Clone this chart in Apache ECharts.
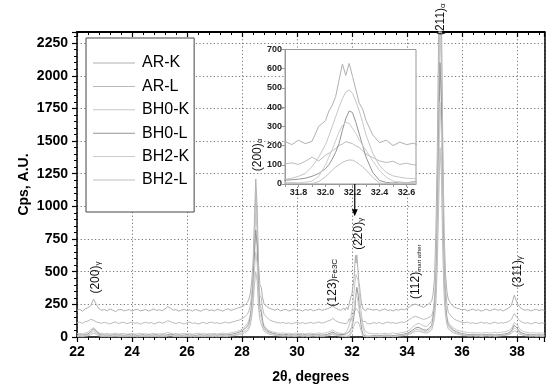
<!DOCTYPE html>
<html><head><meta charset="utf-8">
<script src="https://cdn.jsdelivr.net/npm/echarts@6/dist/echarts.min.js"></script>
<style>html,body{margin:0;padding:0;background:#fff}#c{width:550px;height:389px}</style>
</head><body><div id="c"></div>
<script>
// ---- DATA ----
const seriesNames = ['AR-K','AR-L','BH0-K','BH0-L','BH2-K','BH2-L'];
const xTicksMain = [22,24,26,28,30,32,34,36,38];
const yTicksMain = [0,250,500,750,1000,1250,1500,1750,2000,2250];

// sampling positions (2theta, degrees)
const twoTheta = [
 22.0,22.1,22.2,22.3,22.4,22.5,22.6,22.7,22.8,22.9,
 23.0,23.1,23.2,23.3,23.4,23.5,23.6,23.7,23.8,23.9,
 24.0,24.1,24.2,24.3,24.4,24.5,24.6,24.7,24.8,24.9,
 25.0,25.1,25.2,25.3,25.4,25.5,25.6,25.7,25.8,25.9,
 26.0,26.1,26.2,26.3,26.4,26.5,26.6,26.7,26.8,26.9,
 27.0,27.1,27.2,27.3,27.4,27.5,27.6,27.7,27.8,27.9,
 28.0,28.1,28.2,
 28.25,28.3,28.35,28.4,28.45,28.5,28.55,28.6,28.65,28.7,28.75,28.8,
 28.9,
 29.0,29.1,29.2,29.3,29.4,29.5,29.6,29.7,29.8,29.9,
 30.0,30.1,30.2,30.3,30.4,30.5,30.6,30.7,30.8,30.9,
 31.0,31.1,31.2,31.3,31.4,31.5,31.6,31.7,
 31.75,31.8,31.85,31.9,31.95,32.0,32.025,32.05,32.075,32.1,32.125,32.15,32.175,32.2,32.225,32.25,32.275,32.3,32.35,32.4,32.45,32.5,32.55,32.6,32.65,32.7,
 32.8,32.9,
 33.0,33.1,33.2,33.3,33.4,33.5,33.6,33.7,33.8,33.9,
 34.0,34.1,34.2,34.3,34.4,34.5,34.6,34.7,34.8,34.9,
 34.95,35.0,35.05,35.1,35.15,35.2,35.25,35.3,35.35,35.4,35.45,35.5,
 35.6,35.7,35.8,35.9,
 36.0,36.1,36.2,36.3,36.4,36.5,36.6,36.7,36.8,36.9,
 37.0,37.1,37.2,37.3,37.4,37.5,37.6,37.7,37.8,37.9,
 38.0,38.1,38.2,38.3,38.4,38.5,38.6,38.7,38.8,38.9,
 39.0
];

const arK = [
 205,212,198,215,225,240,290,250,215,205,
 210,200,215,205,195,208,212,200,205,210,
 198,207,213,200,204,211,199,206,214,203,
 209,201,215,232,220,205,210,198,206,212,
 202,208,199,211,205,197,209,214,203,207,
 200,212,206,198,210,215,204,211,218,225,
 232,245,265,
 290,330,420,560,880,1210,1000,560,400,380,300,255,
 232,220,212,205,215,200,208,212,199,206,
 214,203,209,198,210,205,212,200,207,214,
 204,210,216,225,238,222,210,205,222,
 205,228,210,222,300,330,380,410,455,540,625,565,628,560,490,420,390,330,255,215,228,200,218,205,212,200,
 206,212,200,209,215,203,208,199,211,205,
 214,208,218,232,245,252,244,236,228,240,
 255,275,
 330,450,800,1400,2300,2750,2500,1500,800,480,350,290,
 255,232,222,215,208,212,200,207,214,203,
 209,198,206,213,201,208,215,204,210,199,
 212,222,245,320,262,228,212,205,210,200,
 207,213,202,209,204
];
const arL = [
 108,115,104,118,122,135,128,116,110,105,
 112,106,99,110,116,104,109,113,102,108,
 115,104,110,98,107,113,105,111,100,108,
 114,106,112,125,118,108,103,111,106,100,
 109,115,104,108,99,106,112,103,109,114,
 105,110,101,108,115,106,112,118,124,130,
 140,155,175,
 200,240,320,470,780,1100,900,470,320,300,220,175,
 150,132,122,115,110,106,112,104,109,100,
 108,113,105,110,102,107,112,104,109,115,
 106,112,120,128,142,126,114,108,105,
 110,102,118,140,120,150,160,172,185,200,208,220,215,210,198,190,172,155,138,120,112,118,102,108,100,98,
 110,104,112,100,108,115,106,111,103,109,
 116,110,122,135,150,158,152,142,135,140,
 150,165,
 200,290,500,1100,2000,2550,2300,1300,650,380,250,190,
 160,140,128,120,112,108,115,104,110,102,
 107,113,105,110,100,108,114,104,110,106,
 112,120,135,180,150,125,112,105,110,100,
 107,112,103,108,104
];
const bh0K = [
 25,28,24,30,38,55,72,50,32,27,
 24,27,22,26,29,23,25,28,21,24,
 27,22,25,29,23,26,21,25,28,22,
 26,24,28,35,30,24,27,22,25,28,
 23,26,21,25,29,24,27,22,26,24,
 28,23,26,30,25,28,32,36,42,50,
 60,78,105,
 125,170,260,420,700,950,820,420,250,220,130,90,
 62,48,40,35,31,28,32,26,29,24,
 27,30,25,28,23,26,29,25,28,31,
 27,30,35,42,55,40,32,28,24,
 30,40,55,90,140,205,250,300,350,400,445,478,490,472,430,380,320,255,160,95,60,42,35,30,28,26,
 24,27,23,26,29,24,27,31,26,29,
 33,36,42,55,75,92,105,98,85,80,
 95,125,
 180,260,420,850,1700,2350,2050,1100,520,280,160,110,
 85,68,55,47,42,38,35,32,34,30,
 33,29,31,35,30,33,36,32,35,38,
 42,50,65,110,95,60,45,38,34,31,
 33,29,32,30,28
];
const bh0L = [
 15,17,14,18,24,40,62,42,22,16,
 14,16,13,15,17,14,16,13,15,17,
 14,16,12,15,17,13,16,14,15,17,
 13,16,14,18,22,16,14,16,13,15,
 17,14,16,12,15,17,13,16,14,15,
 17,14,16,18,15,17,20,24,30,38,
 48,62,85,
 105,150,230,380,620,820,700,360,210,190,110,75,
 50,38,30,24,20,18,16,19,15,17,
 14,16,18,15,17,14,16,18,15,17,
 14,16,20,28,38,26,20,18,20,
 22,25,30,40,55,80,100,130,165,210,280,340,380,372,320,260,200,140,60,18,8,5,10,6,12,8,
 10,13,9,12,15,11,14,10,13,16,
 18,22,28,38,52,68,75,66,55,52,
 65,90,
 150,220,380,750,1450,2100,1800,950,450,240,140,95,
 70,52,40,32,27,22,19,17,20,16,
 18,15,17,19,16,18,15,17,19,21,
 25,32,48,90,70,40,28,22,19,16,
 18,15,17,14,16
];
const bh2K = [
 8,10,7,11,15,28,45,30,14,9,
 8,10,6,9,11,7,9,6,8,10,
 7,9,5,8,10,6,9,7,8,10,
 6,9,7,11,14,9,7,9,6,8,
 10,7,9,5,8,10,6,9,7,8,
 10,7,9,11,8,10,13,16,20,26,
 34,45,62,
 85,120,190,310,500,650,560,290,170,150,90,60,
 40,30,24,18,15,12,10,13,9,11,
 8,10,12,9,11,8,10,12,9,11,
 8,10,14,20,28,19,14,11,9,
 8,6,10,15,40,100,140,180,225,270,305,322,315,290,262,230,200,175,120,70,35,15,8,5,8,6,
 5,8,4,7,10,6,9,5,8,11,
 13,17,22,30,42,55,60,52,44,42,
 52,72,
 120,180,320,650,1250,1800,1550,800,380,200,115,78,
 58,42,32,25,20,16,13,11,14,10,
 12,9,11,13,10,12,9,11,13,15,
 18,24,38,70,55,30,20,15,12,10,
 12,9,11,8,10
];
const bh2L = [
 3,5,2,6,9,18,30,20,8,4,
 3,5,2,4,6,2,4,1,3,5,
 2,4,1,3,5,2,4,2,3,5,
 1,4,2,6,9,5,3,4,2,3,
 5,2,4,1,3,5,2,4,2,3,
 5,2,4,6,3,5,8,10,14,18,
 24,33,46,
 62,90,145,240,390,500,430,225,130,115,68,45,
 30,22,17,13,10,8,6,8,5,7,
 4,6,8,5,7,4,6,8,5,7,
 4,6,9,14,20,13,9,6,4,
 3,2,4,2,12,38,55,72,88,100,112,120,125,124,115,102,90,72,35,5,2,4,1,3,2,3,
 2,4,1,3,6,2,5,2,4,7,
 9,12,16,22,32,42,46,40,33,31,
 38,55,
 95,145,260,540,1000,1450,1250,650,310,165,95,62,
 45,32,24,18,14,11,9,7,10,6,
 8,5,7,9,6,8,5,7,9,11,
 14,18,28,48,38,22,14,10,8,6,
 8,5,7,4,6
];
const seriesValues = [arK, arL, bh0K, bh0L, bh2K, bh2L];

// ---- CHART ----
const lineColors = ['#b0b0b0','#bababa','#c6c6c6','#959595','#cccccc','#c0c0c0'];
seriesValues.forEach((a,i)=>{ if(a.length!==twoTheta.length) throw new Error(seriesNames[i]+' length '+a.length+' vs '+twoTheta.length); });

const FONT = 'Arial, "Liberation Sans", sans-serif';
const chart = echarts.init(document.getElementById('c'), null, {renderer:'canvas'});

const mainSeries = seriesNames.map((n,i)=>({
  name:n, type:'line', xAxisIndex:0, yAxisIndex:0, symbol:'none', z:3,
  lineStyle:{color:lineColors[i], width:1}, itemStyle:{color:lineColors[i]},
  data: twoTheta.map((x,k)=>[x, seriesValues[i][k]])
}));
const insetSeries = seriesNames.map((n,i)=>({
  name:n, type:'line', xAxisIndex:2, yAxisIndex:2, symbol:'none', z:22, clip:true,
  lineStyle:{color:lineColors[i], width:1}, itemStyle:{color:lineColors[i]},
  data: twoTheta.map((x,k)=>[x, seriesValues[i][k]])
}));

const dotted = {show:true, lineStyle:{color:'#777', width:1, type:[1.2,2.4]}};
const plainNum = v => String(Math.round(v));
chart.setOption({
  animation:false,
  backgroundColor:'#fff',
  grid:[
    {left:77, right:5.5, top:32, bottom:51.5},
    {left:285, top:49.5, width:131, height:134.5, show:true, backgroundColor:'#fff', borderColor:'#999', borderWidth:1, z:20}
  ],
  legend:{
    data:seriesNames.map((n,i)=>({name:n, icon:'path://M0,0 L42,0 L42,1 L0,1 Z', itemStyle:{color:lineColors[i]}})),
    orient:'vertical', left:86, top:38, symbolKeepAspect:true,
    borderColor:'#444', borderWidth:1, padding:[17,5,24,7],
    itemWidth:42, itemHeight:14, itemGap:7.4, z:30,
    textStyle:{fontFamily:FONT, fontSize:16, lineHeight:16, color:'#000', padding:[0,0,0,2]},
    backgroundColor:'#fff'
  },
  xAxis:[
    {type:'value', gridIndex:0, min:22, max:39, interval:2, position:'bottom',
     name:'2θ, degrees', nameLocation:'middle', nameGap:33, nameMoveOverlap:false,
     nameTextStyle:{fontFamily:FONT, fontWeight:'bold', fontSize:14, color:'#000'},
     axisLine:{show:true, onZero:false, lineStyle:{color:'#000', width:1.5}},
     axisTick:{show:true, inside:false, length:5, lineStyle:{color:'#000', width:1.2}},
     minorTick:{show:true, splitNumber:5, length:3, lineStyle:{color:'#000', width:1}},
     axisLabel:{fontFamily:FONT, fontWeight:'bold', fontSize:14, color:'#000', margin:8, showMaxLabel:false, formatter:plainNum},
     splitLine:dotted},
    {type:'value', gridIndex:0, min:22, max:39, interval:2, position:'top',
     axisLine:{show:true, onZero:false, lineStyle:{color:'#000', width:2}},
     axisTick:{show:true, inside:true, length:5, lineStyle:{color:'#000', width:1.2}},
     minorTick:{show:true, splitNumber:5, length:3, lineStyle:{color:'#000', width:1}},
     axisLabel:{show:false}, splitLine:{show:false}},
    {type:'value', gridIndex:1, min:31.7, max:32.67, interval:0.1,
     axisLine:{show:true, onZero:false, lineStyle:{color:'#999', width:1}},
     axisTick:{show:true, inside:false, length:3, lineStyle:{color:'#999'}},
     axisLabel:{fontFamily:FONT, fontWeight:'bold', fontSize:9, color:'#222', margin:4, showMaxLabel:false,
       formatter:v=>{const t=Math.round(v*10); return t%2===0 ? (t/10).toFixed(1) : '';}},
     splitLine:{show:false}, z:21}
  ],
  yAxis:[
    {type:'value', gridIndex:0, min:0, max:2335, interval:250,
     name:'Cps, A.U.', nameLocation:'middle', nameGap:46, nameMoveOverlap:false,
     nameTextStyle:{fontFamily:FONT, fontWeight:'bold', fontSize:14, color:'#000'},
     axisLine:{show:true, onZero:false, lineStyle:{color:'#000', width:1.5}},
     axisTick:{show:true, inside:false, length:5, lineStyle:{color:'#000', width:1.2}},
     minorTick:{show:true, splitNumber:5, length:3, lineStyle:{color:'#000', width:1}},
     axisLabel:{fontFamily:FONT, fontWeight:'bold', fontSize:14, color:'#000', margin:9, showMaxLabel:false, formatter:plainNum},
     splitLine:dotted},
    {type:'value', gridIndex:0, min:0, max:2335, interval:250, position:'right',
     axisLine:{show:true, onZero:false, lineStyle:{color:'#000', width:1.5}},
     axisTick:{show:false}, axisLabel:{show:false}, splitLine:{show:false}},
    {type:'value', gridIndex:1, min:0, max:700, interval:100,
     axisLine:{show:true, onZero:false, lineStyle:{color:'#999', width:1}},
     axisTick:{show:true, inside:false, length:3, lineStyle:{color:'#999'}},
     axisLabel:{fontFamily:FONT, fontWeight:'bold', fontSize:9, color:'#222', margin:3, formatter:plainNum},
     splitLine:{show:false}, z:21}
  ],
  series: mainSeries.concat(insetSeries)
});

// ---- annotations (placed in data coordinates of the main axes) ----
const annotations = [
  {x:22.69, y:455, main:'(200)', sub:'γ'},
  {x:28.58, y:1394, main:'(200)', sub:'α'},
  {x:31.30, y:416, main:'(123)', sub:'Fe3C'},
  {x:32.25, y:790, main:'(220)', sub:'γ'},
  {x:34.33, y:500, main:'(112)', sub:'mart ather', small:true},
  {x:35.24, y:2433, main:'(211)', sub:'α'},
  {x:38.04, y:500, main:'(311)', sub:'γ'}
];
const gfx = annotations.map(a=>{
  const p = chart.convertToPixel({xAxisIndex:0, yAxisIndex:0}, [a.x, a.y]);
  return {type:'text', x:p[0], y:p[1], rotation:Math.PI/2, z:40,
    style:{text:a.main+'{s|'+a.sub+'}', fontFamily:FONT, fontSize:12, fill:'#111',
      align:'center', verticalAlign:'middle',
      rich:{s:{fontSize:a.small?6:8, fontFamily:FONT, fill:'#111', verticalAlign:'bottom', padding:[4,0,0,0]}}}};
});
// arrow from the inset down to the (220) peak
const pTop = chart.convertToPixel({xAxisIndex:2, yAxisIndex:2}, [32.2, 0]);
const pTip = chart.convertToPixel({xAxisIndex:0, yAxisIndex:0}, [32.1, 925]);
const ax = pTip[0];
gfx.push({type:'line', z:40, shape:{x1:ax, y1:pTop[1], x2:ax, y2:pTip[1]-5}, style:{stroke:'#000', lineWidth:1.2}});
gfx.push({type:'polygon', z:40, shape:{points:[[ax-3,pTip[1]-7],[ax+3,pTip[1]-7],[ax,pTip[1]]]}, style:{fill:'#000'}});
chart.setOption({graphic:gfx});
</script>
</body></html>
